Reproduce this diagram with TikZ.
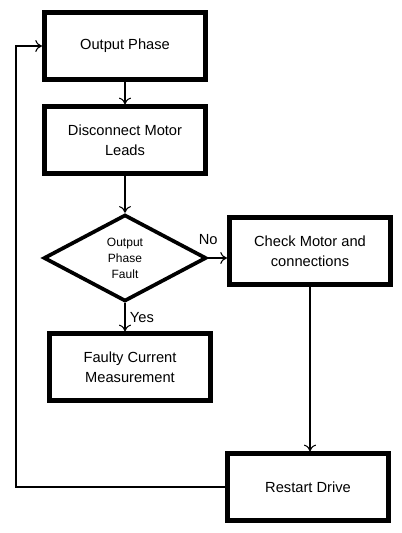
\documentclass[tikz,border=0pt]{standalone}
\usepackage{fontspec}
\setmainfont{Liberation Sans}
\usetikzlibrary{shapes.geometric, arrows.meta}
\tikzset{>={To[length=5pt,width=9pt]}}
\tikzset{box/.style={draw, line width=3.5pt, minimum width=121pt, minimum height=50pt,
  align=center, font=\fontsize{11}{15}\selectfont}}
\tikzset{decision/.style={draw, diamond, line width=2.8pt, aspect=1.85, minimum width=122pt,
  minimum height=65pt, inner sep=0pt, align=center, font=\fontsize{9}{12}\selectfont}}
\tikzset{link/.style={line width=0.8pt}}

\begin{document}
\begin{tikzpicture}[x=0.75pt, y=-0.75pt]
\useasboundingbox (0,0) rectangle (402,533);
\node[box] (phase) at (125,46) {Output Phase};
\node[box] (disc) at (125,140) {Disconnect Motor\\Leads};
\node[decision] (fault) at (125,258) {Output\\Phase\\Fault};
\node[box] (check) at (310,251) {Check Motor and\\connections};
\node[box] (faulty) at (130,367) {Faulty Current\\Measurement};
\node[box] (restart) at (308,487) {Restart Drive};
\coordinate (loop) at (16,300);
% main flow
\draw[link, ->] (phase) -- (disc);
\draw[link, ->] (disc) -- (fault);
\draw[link, ->] (fault.east) -- (fault.east -| check.west)
  node[at start, above, font=\fontsize{11}{13}\selectfont, yshift=6pt] (no) {No};
\draw[link, ->] (fault.south) -- (fault.south |- faulty.north)
  node[midway, right, font=\fontsize{11}{13}\selectfont] (yes) {Yes};
\draw[link, ->] (check.south) -- (check.south |- restart.north);
% back to start
\draw[link, ->] (restart.west) -| (loop) |- (phase.west);
\end{tikzpicture}
\end{document}
